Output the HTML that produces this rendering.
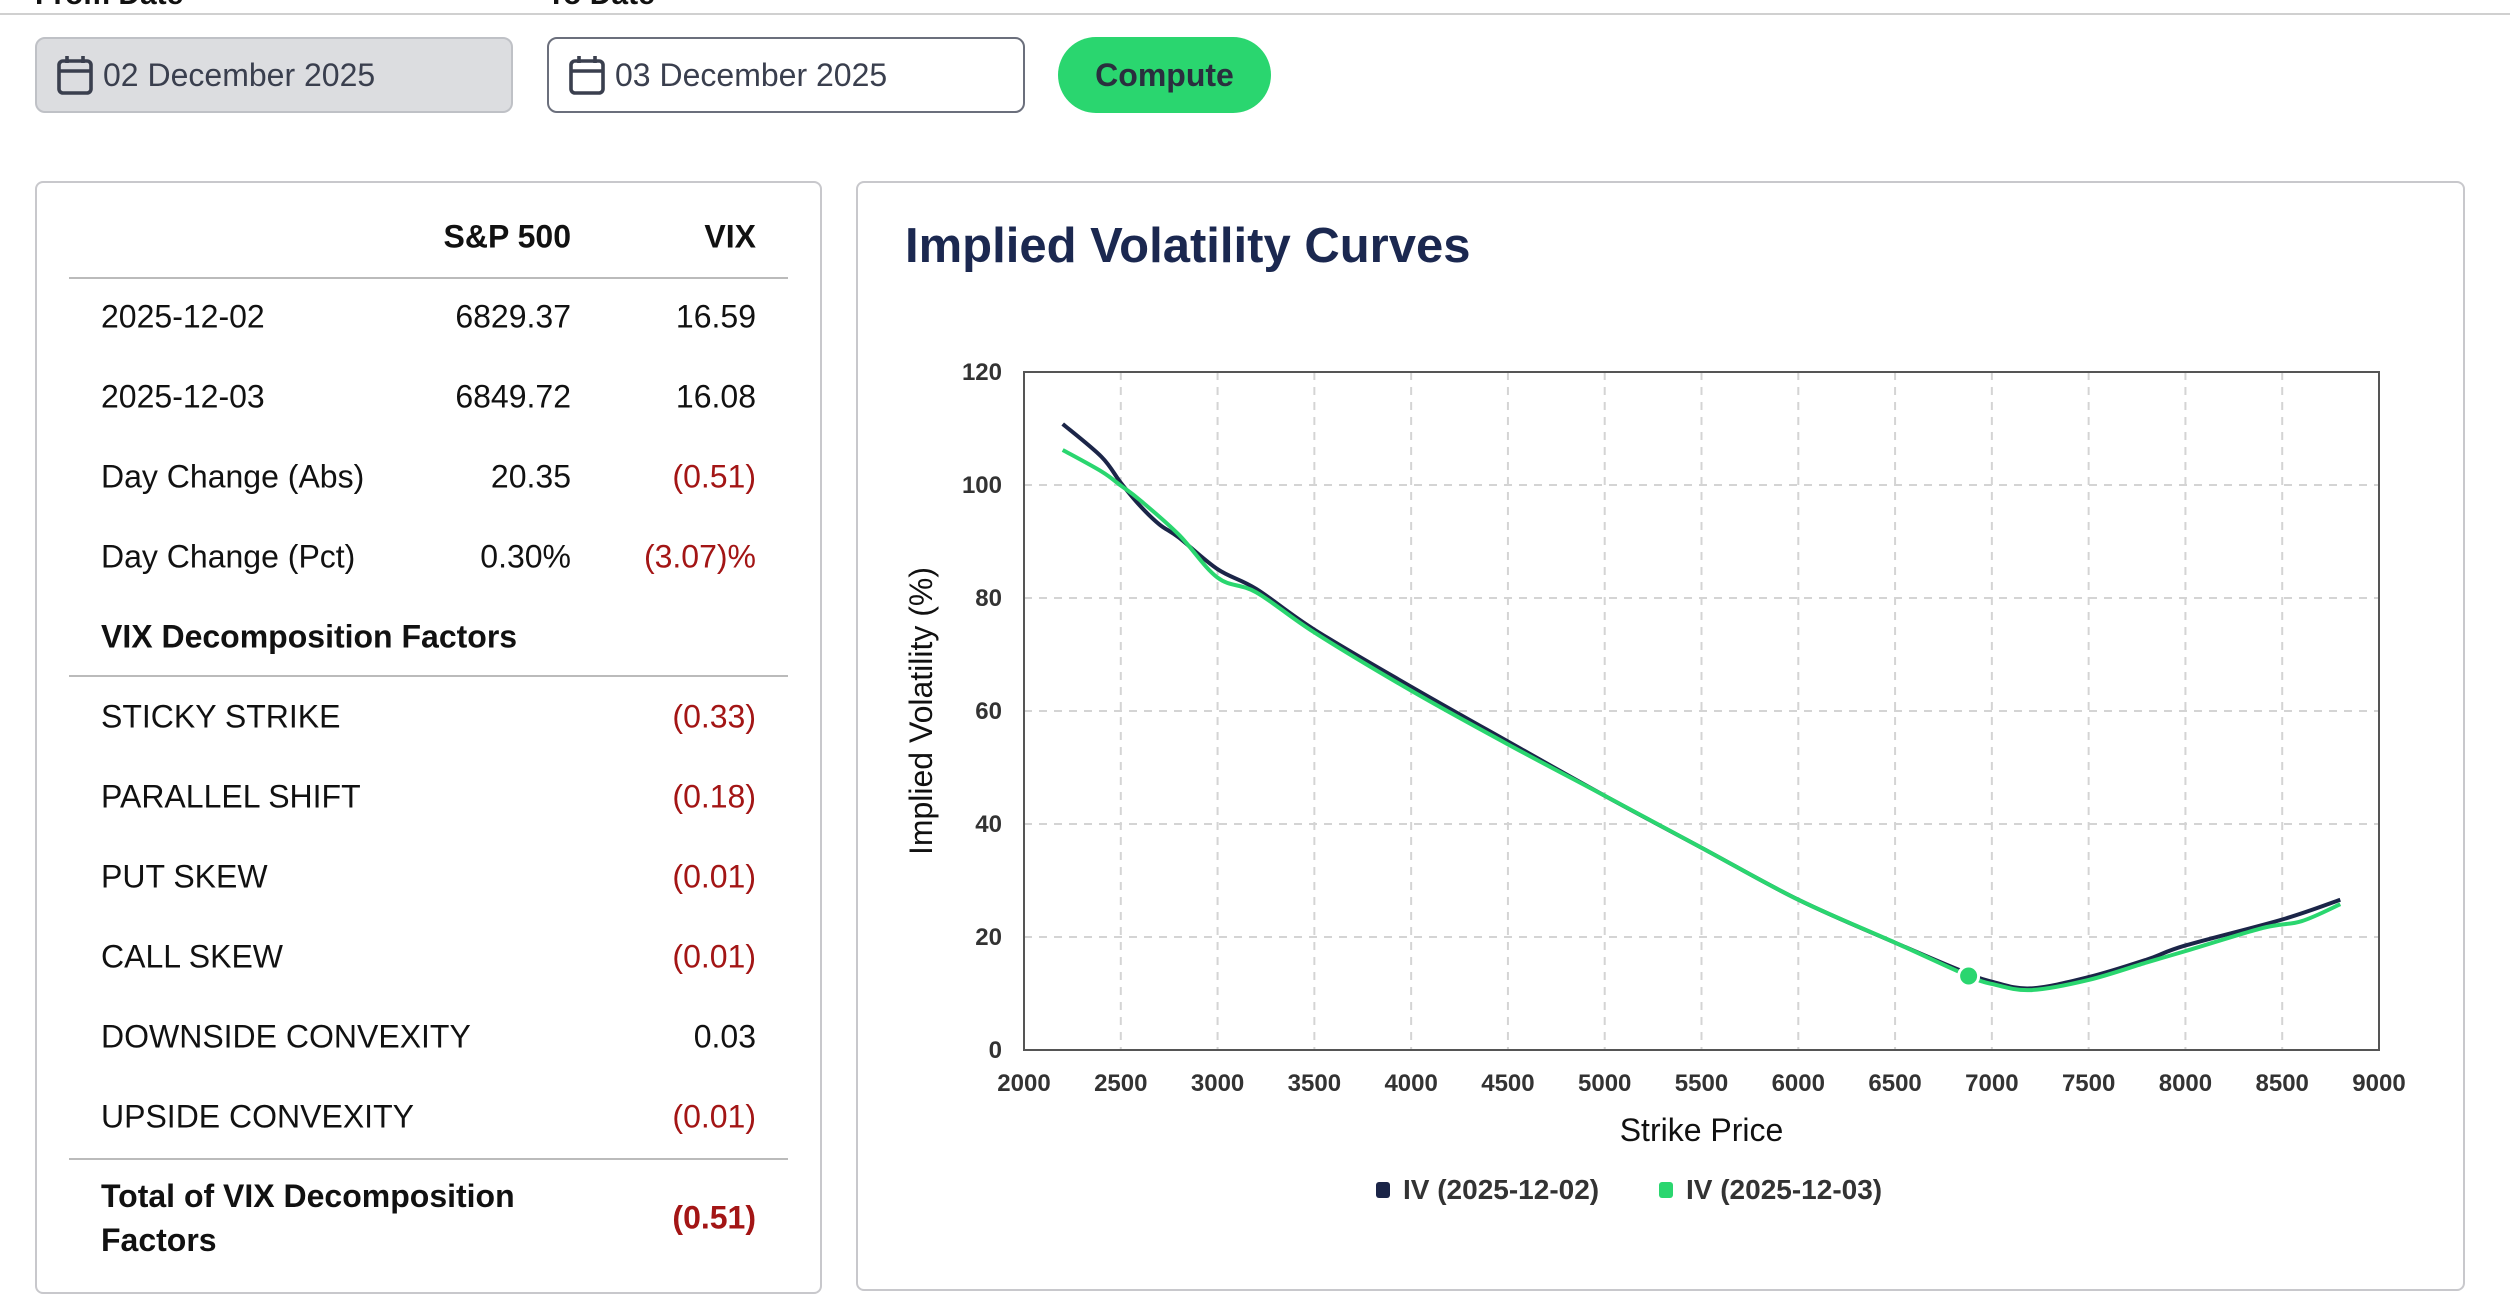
<!DOCTYPE html>
<html><head><meta charset="utf-8">
<style>
body{margin:0;width:2510px;height:1308px;background:#fff;font-family:"Liberation Sans",sans-serif;position:relative;overflow:hidden;color:#111}
.abs{position:absolute}
.topline{left:0;top:13px;width:2510px;height:2px;background:#d0d0d0}
.lbl{font-weight:bold;font-size:30px;top:-22px;color:#111}
.date{top:37px;height:76px;border-radius:10px;box-sizing:border-box;display:flex;align-items:center;font-size:32px;color:#3a3f4e}
.panel{border:2px solid #c8c8cc;border-radius:8px;box-sizing:border-box;background:#fff}
.row{position:absolute;left:0;width:783px;height:80px;font-size:32px}
.row span{position:absolute;top:50%;transform:translateY(-50%)}
.c1{left:64px}.c2{right:249px}.c3{right:64px}
.neg{color:#a31515}
.hr{position:absolute;left:32px;width:719px;height:2px;background:#bbb}
</style></head><body>
<div class="abs topline"></div>
<div class="abs lbl" style="left:35px">From Date</div>
<div class="abs lbl" style="left:547px">To Date</div>
<div class="abs date" style="left:35px;width:478px;background:#dcdde0;border:2px solid #bfc1c6">
<svg width="40" height="44" style="margin:0 8px 0 18px" viewBox="0 0 20 22"><rect x="2" y="4" width="16" height="16" rx="2" fill="none" stroke="#3a3f4e" stroke-width="1.8"/><line x1="2" y1="9" x2="18" y2="9" stroke="#3a3f4e" stroke-width="1.8"/><line x1="6" y1="1.5" x2="6" y2="5" stroke="#3a3f4e" stroke-width="1.8"/><line x1="14" y1="1.5" x2="14" y2="5" stroke="#3a3f4e" stroke-width="1.8"/></svg>02 December 2025</div>
<div class="abs date" style="left:547px;width:478px;background:#fff;border:2px solid #6b6f7c">
<svg width="40" height="44" style="margin:0 8px 0 18px" viewBox="0 0 20 22"><rect x="2" y="4" width="16" height="16" rx="2" fill="none" stroke="#3a3f4e" stroke-width="1.8"/><line x1="2" y1="9" x2="18" y2="9" stroke="#3a3f4e" stroke-width="1.8"/><line x1="6" y1="1.5" x2="6" y2="5" stroke="#3a3f4e" stroke-width="1.8"/><line x1="14" y1="1.5" x2="14" y2="5" stroke="#3a3f4e" stroke-width="1.8"/></svg>03 December 2025</div>
<div class="abs" style="left:1058px;top:37px;width:213px;height:76px;border-radius:38px;background:#2ad66f;color:#2a2f3e;font-weight:bold;font-size:32px;display:flex;align-items:center;justify-content:center">Compute</div>

<div class="abs panel" style="left:35px;top:181px;width:787px;height:1113px">
<div class="row" style="top:14px;font-weight:bold"><span class="c2">S&amp;P 500</span><span class="c3">VIX</span></div>
<div class="hr" style="top:94px"></div>
<div class="row" style="top:94px"><span class="c1">2025-12-02</span><span class="c2">6829.37</span><span class="c3">16.59</span></div>
<div class="row" style="top:174px"><span class="c1">2025-12-03</span><span class="c2">6849.72</span><span class="c3">16.08</span></div>
<div class="row" style="top:254px"><span class="c1">Day Change (Abs)</span><span class="c2">20.35</span><span class="c3 neg">(0.51)</span></div>
<div class="row" style="top:334px"><span class="c1">Day Change (Pct)</span><span class="c2">0.30%</span><span class="c3 neg">(3.07)%</span></div>
<div class="row" style="top:414px;font-weight:bold"><span class="c1">VIX Decomposition Factors</span></div>
<div class="hr" style="top:492px"></div>
<div class="row" style="top:494px"><span class="c1">STICKY STRIKE</span><span class="c3 neg">(0.33)</span></div>
<div class="row" style="top:574px"><span class="c1">PARALLEL SHIFT</span><span class="c3 neg">(0.18)</span></div>
<div class="row" style="top:654px"><span class="c1">PUT SKEW</span><span class="c3 neg">(0.01)</span></div>
<div class="row" style="top:734px"><span class="c1">CALL SKEW</span><span class="c3 neg">(0.01)</span></div>
<div class="row" style="top:814px"><span class="c1">DOWNSIDE CONVEXITY</span><span class="c3">0.03</span></div>
<div class="row" style="top:894px"><span class="c1">UPSIDE CONVEXITY</span><span class="c3 neg">(0.01)</span></div>
<div class="hr" style="top:975px"></div>
<div class="row" style="top:991px;height:88px;font-weight:bold"><span class="c1" style="line-height:44px">Total of VIX Decomposition<br>Factors</span><span class="c3 neg">(0.51)</span></div>
</div>

<div class="abs panel" style="left:856px;top:181px;width:1609px;height:1110px"></div>
<div class="abs" style="left:905px;top:218px;font-size:49px;font-weight:bold;color:#1b2850">Implied Volatility Curves</div>
<svg class="abs" style="left:0;top:0" width="2510" height="1308" id="chart"></svg>
<script>
const xTicks=[2000,2500,3000,3500,4000,4500,5000,5500,6000,6500,7000,7500,8000,8500,9000];
const yTicks=[0,20,40,60,80,100,120];
const strikes1=[2200,2400,2500,2600,2700,2800,3000,3200,3500,4000,4500,5000,5500,6000,6500,6850,7000,7200,7500,7800,8000,8500,8800];
const iv1=[110.8,105,100.4,96.3,93,90.7,85.1,81.6,74.4,64.3,54.6,45,35.8,26.6,19,13.9,12.1,10.9,12.9,16,18.5,23.1,26.6];
const strikes2=[2200,2400,2500,2600,2800,3000,3200,3500,4000,4500,5000,5500,6000,6500,6880,7000,7200,7500,7800,8000,8400,8600,8800];
const iv2=[106.2,102.4,99.9,97.3,91.2,83.6,81,73.9,63.6,54.1,45,35.8,26.6,19,13.1,11.7,10.6,12.4,15.5,17.5,21.6,22.8,25.8];
const spot=[6880,13.1];
const L=1024,R=2379,T=372,B=1050;
const X=v=>L+(v-2000)/7000*(R-L), Y=v=>B-v/120*(B-T);
const svg=document.getElementById('chart');const NS='http://www.w3.org/2000/svg';
function mk(t,a,txt){const e=document.createElementNS(NS,t);for(const k in a)e.setAttribute(k,a[k]);if(txt!==undefined)e.textContent=txt;svg.appendChild(e);return e;}
xTicks.forEach(v=>{const g=mk('line',{x1:X(v),x2:X(v),y1:T,y2:B,stroke:'#d4d4d4','stroke-width':2,'stroke-dasharray':'8 7'});

const t=mk('text',{x:X(v),y:B+41,'text-anchor':'middle','font-size':24,'font-weight':'bold',fill:'#333'},v);
});
yTicks.forEach(v=>{const g=mk('line',{x1:L,x2:R,y1:Y(v),y2:Y(v),stroke:'#d4d4d4','stroke-width':2,'stroke-dasharray':'8 7'});

const t=mk('text',{x:L-22,y:Y(v)+8,'text-anchor':'end','font-size':24,'font-weight':'bold',fill:'#333'},v);
});
const fr=mk('rect',{x:L,y:T,width:R-L,height:B-T,fill:'none',stroke:'#555','stroke-width':2});

function path(xs,ys){const p=xs.map((x,i)=>[X(x),Y(ys[i])]);let d='M'+p[0];for(let i=0;i<p.length-1;i++){const a=p[i-1]||p[i],b=p[i],c=p[i+1],e=p[i+2]||c;
d+=' C'+(b[0]+(c[0]-a[0])/6)+','+(b[1]+(c[1]-a[1])/6)+' '+(c[0]-(e[0]-b[0])/6)+','+(c[1]-(e[1]-b[1])/6)+' '+c;}return d;}
const s1=mk('path',{d:path(strikes1,iv1),fill:'none',stroke:'#1b2548','stroke-width':4});

const s2=mk('path',{d:path(strikes2,iv2),fill:'none',stroke:'#2ad66f','stroke-width':4});

const m=mk('circle',{cx:X(spot[0]),cy:Y(spot[1]),r:10,fill:'#2ad66f',stroke:'#fff','stroke-width':3});

const xt=mk('text',{x:(L+R)/2,y:1141,'text-anchor':'middle','font-size':32,fill:'#111'},'Strike Price');

const yt=mk('text',{x:0,y:0,'text-anchor':'middle','font-size':32,fill:'#111',transform:'translate(932,'+((T+B)/2)+') rotate(-90)'},'Implied Volatility (%)');

const l1=mk('rect',{x:1376,y:1182,width:14,height:16,rx:3,fill:'#1b2548'});

const lt1=mk('text',{x:1403,y:1199,'font-size':28,'font-weight':'bold',fill:'#333'},'IV (2025-12-02)');

const l2=mk('rect',{x:1659,y:1182,width:14,height:16,rx:3,fill:'#2ad66f'});

const lt2=mk('text',{x:1686,y:1199,'font-size':28,'font-weight':'bold',fill:'#333'},'IV (2025-12-03)');

</script>
</body></html>
